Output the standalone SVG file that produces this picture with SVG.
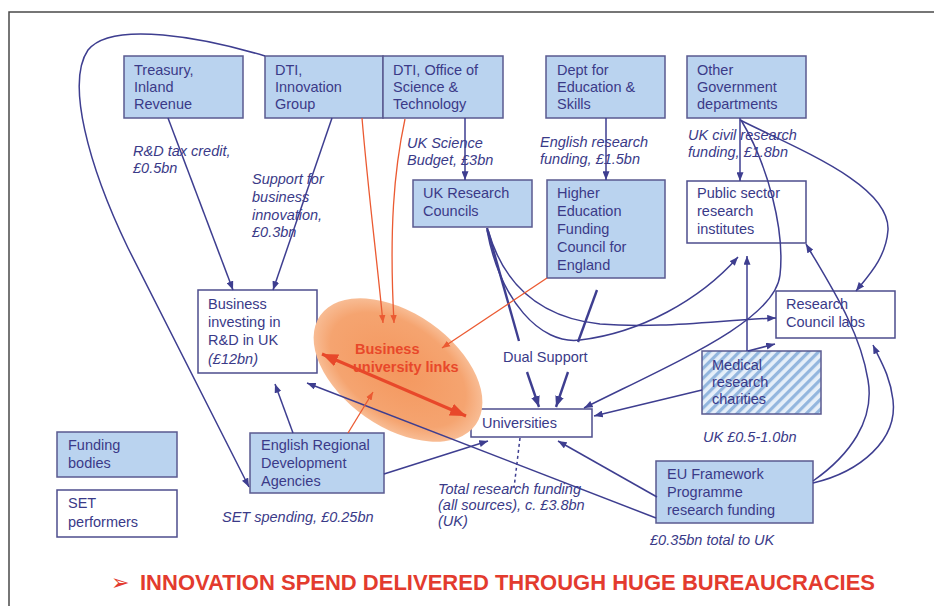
<svg xmlns="http://www.w3.org/2000/svg" width="934" height="606" viewBox="0 0 934 606">
<style>
.box{fill:#BAD3EF;stroke:#5A5A90;stroke-width:1.5}
.wbox{fill:#ffffff;stroke:#4D4D8D;stroke-width:1.5}
.t{font-family:"Liberation Sans",Arial,sans-serif;font-size:14.5px;fill:#3A3A88}
.it{font-style:italic}
.c{fill:none;stroke:#3E3E90;stroke-width:1.5}
.thick{stroke-width:2.4}
.r{fill:none;stroke:#EB5A32;stroke-width:1.3}
.rt{stroke:#E8482A;stroke-width:3}
</style>
<defs>
<marker id="ab" viewBox="0 0 10 8" refX="10" refY="4" markerWidth="9" markerHeight="7" orient="auto" markerUnits="userSpaceOnUse"><path d="M0,0 L10,4 L0,8 z" fill="#3E3E90"/></marker>
<marker id="abt" viewBox="0 0 10 8" refX="10" refY="4" markerWidth="11" markerHeight="9" orient="auto" markerUnits="userSpaceOnUse"><path d="M0,0 L10,4 L0,8 z" fill="#3E3E90"/></marker>
<marker id="ar" viewBox="0 0 10 8" refX="10" refY="4" markerWidth="8" markerHeight="7" orient="auto" markerUnits="userSpaceOnUse"><path d="M0,0 L10,4 L0,8 z" fill="#EB5A32"/></marker>
<marker id="arb" viewBox="0 0 10 8" refX="10" refY="4" markerWidth="16" markerHeight="13" orient="auto-start-reverse" markerUnits="userSpaceOnUse"><path d="M0,0 L10,4 L0,8 z" fill="#E8482A"/></marker>
<pattern id="hatch" width="7" height="7" patternUnits="userSpaceOnUse" patternTransform="rotate(45)"><rect width="7" height="7" fill="#E6EFF9"/><rect width="3.2" height="7" fill="#93B6DE"/></pattern>
<radialGradient id="eg" cx="0.5" cy="0.5" r="0.5"><stop offset="0" stop-color="#F4975E"/><stop offset="0.8" stop-color="#F5A470"/><stop offset="1" stop-color="#F8BC94"/></radialGradient>
</defs>
<rect width="934" height="606" fill="#ffffff"/>
<path d="M9,606 L9,12 L934,12" fill="none" stroke="#4a4a4a" stroke-width="1.5"/>

<g id="node-treasury"><rect class="box" x="124" y="56" width="119" height="62"/><text class="t" x="134" y="75">Treasury,</text><text class="t" x="134" y="92">Inland</text><text class="t" x="134" y="109">Revenue</text></g>
<g id="node-dti-innovation"><rect class="box" x="265" y="56" width="118" height="62"/><text class="t" x="275" y="75">DTI,</text><text class="t" x="275" y="92">Innovation</text><text class="t" x="275" y="109">Group</text></g>
<g id="node-dti-ost"><rect class="box" x="383" y="56" width="120" height="62"/><text class="t" x="393" y="75">DTI, Office of</text><text class="t" x="393" y="92">Science &amp;</text><text class="t" x="393" y="109">Technology</text></g>
<g id="node-dfes"><rect class="box" x="546" y="56" width="119" height="62"/><text class="t" x="557" y="75">Dept for</text><text class="t" x="557" y="92">Education &amp;</text><text class="t" x="557" y="109">Skills</text></g>
<g id="node-other-gov"><rect class="box" x="687" y="56" width="119" height="62"/><text class="t" x="697" y="75">Other</text><text class="t" x="697" y="92">Government</text><text class="t" x="697" y="109">departments</text></g>
<g id="node-ukrc"><rect class="box" x="413" y="180" width="119" height="47"/><text class="t" x="423" y="198">UK Research</text><text class="t" x="423" y="216">Councils</text></g>
<g id="node-hefce"><rect class="box" x="547" y="180" width="118" height="98"/><text class="t" x="557" y="198">Higher</text><text class="t" x="557" y="216">Education</text><text class="t" x="557" y="234">Funding</text><text class="t" x="557" y="252">Council for</text><text class="t" x="557" y="270">England</text></g>
<g id="node-public-sector"><rect class="wbox" x="687" y="181" width="119" height="62"/><text class="t" x="697" y="198">Public sector</text><text class="t" x="697" y="216">research</text><text class="t" x="697" y="234">institutes</text></g>
<g id="node-rc-labs"><rect class="wbox" x="776" y="291" width="119" height="47"/><text class="t" x="786" y="309">Research</text><text class="t" x="786" y="327">Council labs</text></g>
<g id="node-medical"><rect x="702" y="351" width="119" height="63" fill="url(#hatch)" stroke="#5A5A90" stroke-width="1.5"/><text class="t" x="712" y="370">Medical</text><text class="t" x="712" y="387">research</text><text class="t" x="712" y="404">charities</text></g>
<g id="node-eu"><rect class="box" x="656" y="461" width="157" height="62"/><text class="t" x="667" y="479">EU Framework</text><text class="t" x="667" y="497">Programme</text><text class="t" x="667" y="515">research funding</text></g>
<g id="node-business"><rect class="wbox" x="198" y="290" width="119" height="83"/><text class="t" x="208" y="309">Business</text><text class="t" x="208" y="327">investing in</text><text class="t" x="208" y="345">R&amp;D in UK</text><text class="t it" x="208" y="364">(£12bn)</text></g>
<g id="node-erda"><rect class="box" x="250" y="433" width="134" height="60"/><text class="t" x="261" y="450">English Regional</text><text class="t" x="261" y="468">Development</text><text class="t" x="261" y="486">Agencies</text></g>
<g id="node-universities"><rect class="wbox" x="471" y="409" width="121" height="28"/><text class="t" x="482" y="428">Universities</text></g>
<g id="node-links"><ellipse cx="398" cy="370" rx="95" ry="57" transform="rotate(35 398 370)" fill="url(#eg)"/><text class="t" x="355" y="354" style="font-weight:bold;fill:#E8482A">Business</text><text class="t" x="353" y="372" style="font-weight:bold;fill:#E8482A">university links</text></g>
<g id="legend-funding"><rect class="box" x="57" y="432" width="120" height="45"/><text class="t" x="68" y="450">Funding</text><text class="t" x="68" y="468">bodies</text></g>
<g id="legend-set"><rect class="wbox" x="57" y="490" width="120" height="47"/><text class="t" x="68" y="508">SET</text><text class="t" x="68" y="527">performers</text></g>

<g id="labels">
<text class="t it" x="133" y="156">R&amp;D tax credit,</text><text class="t it" x="133" y="173">£0.5bn</text>
<text class="t it" x="252" y="184">Support for</text><text class="t it" x="252" y="202">business</text><text class="t it" x="252" y="220">innovation,</text><text class="t it" x="252" y="237">£0.3bn</text>
<text class="t it" x="407" y="148">UK Science</text><text class="t it" x="407" y="165">Budget, £3bn</text>
<text class="t it" x="540" y="147">English research</text><text class="t it" x="540" y="164">funding, £1.5bn</text>
<text class="t it" x="688" y="140">UK civil research</text><text class="t it" x="688" y="157">funding, £1.8bn</text>
<text class="t" x="503" y="362">Dual Support</text>
<text class="t it" x="703" y="442">UK £0.5-1.0bn</text>
<text class="t it" x="650" y="545">£0.35bn total to UK</text>
<text class="t it" x="222" y="522">SET spending, £0.25bn</text>
<text class="t it" x="438" y="494">Total research funding</text><text class="t it" x="438" y="510">(all sources), c. £3.8bn</text><text class="t it" x="438" y="526">(UK)</text>
<text x="111" y="590" style="font-family:'DejaVu Sans',sans-serif;font-size:22px;font-weight:bold;fill:#E33B2E">➢</text>
<text x="140" y="590" style="font-family:'Liberation Sans',Arial,sans-serif;font-size:22px;font-weight:bold;fill:#E33B2E">INNOVATION SPEND DELIVERED THROUGH HUGE BUREAUCRACIES</text>
</g>

<g id="connectors">
<path class="c" d="M265,56 C205,38 112,20 88,50 C66,82 88,165 128,248 L249,487" marker-end="url(#ab)"/>
<path class="c" d="M168,118 L233,290" marker-end="url(#ab)"/>
<path class="c" d="M332,118 L273,290" marker-end="url(#ab)"/>
<path class="c" d="M465,118 L465,180" marker-end="url(#ab)"/>
<path class="c" d="M606,118 L606,180" marker-end="url(#ab)"/>
<path class="c" d="M740,118 L740,181" marker-end="url(#ab)"/>
<path class="c" d="M740,120 C800,150 890,185 888,230 C886,258 868,276 856,291" marker-end="url(#ab)"/>
<path class="c" d="M741,120 C768,165 785,230 780,275 C775,320 680,360 584,408" marker-end="url(#ab)"/>
<path class="c thick" d="M487,228 L519,341"/>
<path class="c" d="M487,230 C500,300 540,345 580,340 C640,333 700,300 738,257" marker-end="url(#ab)"/>
<path class="c" d="M488,230 C505,290 545,318 600,324 C660,329 720,320 776,318" marker-end="url(#ab)"/>
<path class="c thick" d="M597,290 L578,342"/>
<path class="c thick" d="M527,372 L539,407" marker-end="url(#abt)"/>
<path class="c thick" d="M568,372 L556,407" marker-end="url(#abt)"/>
<path class="c" d="M747,351 L747,256" marker-end="url(#ab)"/>
<path class="c" d="M748,351 L775,344" marker-end="url(#ab)"/>
<path class="c" d="M702,390 L594,416" marker-end="url(#ab)"/>
<path class="c" d="M813,481 C850,455 875,420 868,380 C860,330 830,285 806,244" marker-end="url(#ab)"/>
<path class="c" d="M813,483 C860,472 898,440 893,400 C890,375 880,360 873,345" marker-end="url(#ab)"/>
<path class="c" d="M657,497 L558,441" marker-end="url(#ab)"/>
<path class="c" d="M656,518 L307,383" marker-end="url(#ab)"/>
<path class="c" d="M384,474 L488,441" marker-end="url(#ab)"/>
<path class="c" d="M293,433 L275,384" marker-end="url(#ab)"/>
<path class="c" d="M520,438 L514,488" stroke-dasharray="3,3" stroke-width="1"/>
<path class="r" d="M362,118 C368,190 377,260 383,323" marker-end="url(#ar)"/>
<path class="r" d="M405,119 C394,170 389,230 394,323" marker-end="url(#ar)"/>
<path class="r" d="M547,278 L442,348" marker-end="url(#ar)"/>
<path class="r" d="M348,433 L373,392" marker-end="url(#ar)"/>
<path class="r rt" d="M322,354 L466,416" marker-start="url(#arb)" marker-end="url(#arb)"/>
</g>
</svg>
